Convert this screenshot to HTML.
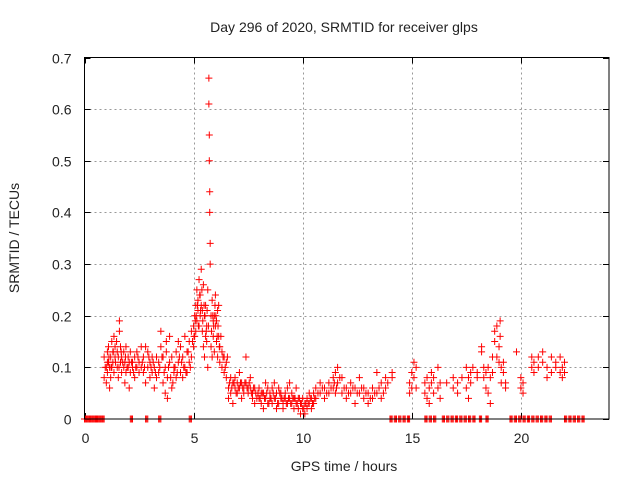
<!DOCTYPE html>
<html><head><meta charset="utf-8"><style>
body{margin:0;background:#fff}
svg text{font-family:"Liberation Sans",sans-serif;font-size:14px;fill:#222}
</style></head><body>
<svg id="chart" width="640" height="480" xmlns="http://www.w3.org/2000/svg">
<rect width="640" height="480" fill="#fff"/>
<text x="344" y="32" text-anchor="middle">Day 296 of 2020, SRMTID for receiver glps</text>
<text x="344" y="471" text-anchor="middle">GPS time / hours</text>
<text transform="translate(19,238) rotate(-90)" text-anchor="middle">SRMTID / TECUs</text>
<g id="grid"></g>
<g id="ticks"></g>
<g id="points"></g>
<rect x="84.5" y="57.5" width="524.5" height="361.5" fill="none" stroke="#000" stroke-width="1"/>
</svg>
<script>
const xTicks=[0,5,10,15,20];
const yTicks=[0,0.1,0.2,0.3,0.4,0.5,0.6,0.7];
const yTickLabels=["0","0.1","0.2","0.3","0.4","0.5","0.6","0.7"];
const times=[0.9,1.0,1.05,1.1,1.15,1.2,1.25,1.3,1.35,1.4,1.5,1.55,1.6,1.65,1.7,1.8,1.85,1.9,2.0,2.05,2.1,2.2,2.3,2.4,2.5,
2.6,2.7,2.8,2.9,3.0,3.1,3.2,3.3,3.4,3.5,3.6,3.7,3.75,3.8,3.9,4.0,4.1,4.2,4.3,4.4,4.5,4.6,4.7,4.8,4.9,
5.0,5.05,5.1,5.15,5.2,5.25,5.3,5.35,5.4,5.45,5.5,5.55,5.6,5.65,5.7,5.72,5.74,5.76,5.8,5.85,5.9,5.95,6.0,6.05,6.1,6.15,6.2,6.3,6.4,6.5,
6.6,6.7,6.8,6.9,7.0,7.1,7.2,7.3,7.4,7.5,7.6,7.7,7.8,
8.0,8.1,8.2,8.3,8.4,8.5,8.6,8.7,8.8,8.9,9.0,9.1,9.2,9.3,9.4,9.5,9.6,9.7,9.8,9.9,10.0,10.1,10.2,10.3,10.4,10.5,
10.6,10.8,11.0,11.2,11.4,11.5,11.6,11.8,12.0,12.2,12.4,12.6,12.8,13.0,13.2,13.4,13.6,13.8,
14.1,14.9,15.0,15.1,15.2,15.6,15.7,15.8,15.9,16.0,16.2,16.3,16.6,16.9,17.1,17.3,17.5,17.6,17.7,17.8,18.0,18.2,18.3,18.4,18.5,18.6,18.7,18.8,18.9,19.0,19.05,19.1,19.2,19.3,19.8,20.0,20.1,20.5,20.6,20.8,21.0,21.2,21.4,21.6,21.8,21.9,22.0];
const valuesA=[.08,.1,.13,.11,.06,.12,.15,.13,.16,.12,.1,.08,.19,.11,.09,.1,.07,.14,.12,.06,.09,.11,.12,.1,.09,
.14,.12,.14,.1,.08,.09,.06,.12,.09,.14,.12,.1,.15,.08,.16,.12,.1,.13,.11,.09,.12,.16,.13,.15,.12,
.14,.2,.22,.25,.23,.27,.24,.29,.21,.26,.2,.22,.15,.25,.66,.55,.44,.34,.2,.23,.19,.2,.24,.15,.21,.16,.14,.13,.12,.11,
.06,.08,.07,.06,.05,.06,.07,.06,.12,.06,.08,.05,.06,
.04,.03,.05,.04,.03,.05,.06,.04,.05,.03,.04,.03,.05,.06,.04,.03,.04,.03,.04,.03,.02,.03,.04,.03,.04,.05,
.04,.05,.06,.07,.08,.09,.07,.08,.06,.05,.06,.05,.04,.05,.06,.09,.07,.08,
.08,.07,.06,.08,.06,.05,.08,.03,.09,.05,.06,.04,.07,.08,.05,.08,.1,.08,.09,.1,.08,.14,.1,.06,.05,.03,.12,.15,.18,.14,.16,.1,.09,.07,.13,.06,.07,.1,.11,.12,.13,.1,.12,.11,.09,.1,.09];
const valuesB=[.12,.07,.09,.14,.1,.08,.1,.11,.09,.14,.13,.12,.17,.14,.12,.13,.11,.09,.1,.11,.13,.1,.08,.13,.11,
.1,.09,.07,.13,.11,.12,.1,.08,.11,.17,.07,.05,.13,.04,.11,.06,.09,.08,.15,.14,.08,.1,.09,.11,.17,
.18,.16,.17,.19,.21,.18,.2,.22,.17,.14,.12,.16,.18,.1,.61,.5,.4,.3,.14,.12,.16,.13,.18,.19,.12,.22,.11,.1,.09,.08,
.04,.05,.03,.08,.07,.09,.04,.05,.07,.05,.06,.04,.03,
.06,.05,.02,.07,.06,.04,.03,.07,.02,.06,.05,.02,.04,.03,.07,.05,.02,.06,.02,.01,.04,.01,.02,.05,.02,.03,
.06,.07,.04,.05,.06,.05,.1,.05,.04,.07,.03,.08,.06,.03,.04,.05,.04,.06,
.09,.05,.09,.11,.1,.07,.04,.06,.07,.08,.1,.07,null,.06,.07,null,.06,.04,.07,null,.09,.13,.08,.09,.1,.08,.09,.17,.12,.11,.19,.07,.11,.06,null,.08,.05,.12,.09,.1,.11,.08,.09,.1,.12,.08,.11];
const extraTimes=[0.95,1.05,1.12,1.22,1.32,1.42,1.47,1.58,1.68,1.75,1.88,1.95,2.15,2.25,2.35,2.45,2.65,2.75,2.95,3.05,3.15,3.25,3.45,3.55,3.65,3.85,3.95,4.05,4.15,4.25,4.35,4.45,4.55,4.65,4.75,4.85,4.95,
5.02,5.08,5.12,5.18,5.22,5.28,5.32,5.38,5.42,5.48,5.52,5.58,5.62,5.68,5.82,5.88,5.92,5.98,6.02,6.08,6.12,6.18,6.25,6.35,6.45,6.55,
6.65,6.75,6.85,6.95,7.05,7.15,7.25,7.35,7.45,7.55,7.65,7.75,7.85,7.9,7.95,8.05,8.15,8.25,8.35,8.45,8.55,8.65,8.75,8.85,8.95,9.05,9.15,9.25,9.35,9.45,9.55,9.65,9.75,9.85,9.95,10.05,10.15,10.25,10.35,10.45,10.55,
10.7,10.9,11.1,11.3,11.45,11.55,11.7,11.9,12.1,12.3,12.5,12.7,12.9,13.1,13.3,13.5,13.7,13.9];
const extraValues=[.1,.11,.12,.1,.13,.11,.15,.1,.13,.11,.12,.1,.11,.09,.1,.12,.11,.1,.12,.1,.11,.09,.1,.12,.09,.1,.08,.07,.1,.09,.12,.11,.1,.09,.13,.1,.15,
.16,.19,.2,.22,.18,.24,.21,.25,.19,.22,.2,.17,.21,.18,.17,.2,.18,.22,.2,.16,.18,.14,.16,.12,.1,.12,
.07,.06,.07,.05,.06,.07,.06,.07,.06,.07,.05,.06,.05,.04,.05,.04,.05,.04,.05,.03,.04,.05,.04,.03,.05,.04,.04,.03,.04,.03,.04,.04,.03,.04,.03,.02,.03,.03,.04,.03,.04,
.05,.06,.05,.06,.07,.06,.08,.06,.05,.06,.05,.06,.05,.04,.05,.06,.05,.07];
const zeroTimes=[0,0.1,0.2,0.3,0.4,0.5,0.6,0.7,0.8,2.1,2.8,3.4,4.8,14.0,14.2,14.4,14.6,14.8,15.6,15.8,16.0,16.4,16.6,16.8,17.0,17.2,17.4,17.6,17.8,18.1,18.4,19.5,19.7,19.9,20.1,20.3,20.5,20.7,20.9,21.1,21.3,22.0,22.2,22.4,22.6,22.8];
const X0=84.5,X1=609,XMAX=24.04,Y0=419,Y1=57.5,YMAX=0.7;
function sx(t){return X0+(X1-X0)*t/XMAX;}
function sy(v){return Y0-(Y0-Y1)*v/YMAX;}
const NS="http://www.w3.org/2000/svg";
const grid=document.getElementById('grid'),ticks=document.getElementById('ticks'),pts=document.getElementById('points');
function line(g,x1,y1,x2,y2,st,dash){const l=document.createElementNS(NS,'line');l.setAttribute('x1',x1);l.setAttribute('y1',y1);l.setAttribute('x2',x2);l.setAttribute('y2',y2);l.setAttribute('stroke',st);if(dash)l.setAttribute('stroke-dasharray',dash);g.appendChild(l);return l;}
function txt(g,x,y,s,a){const t=document.createElementNS(NS,'text');t.setAttribute('x',x);t.setAttribute('y',y);t.setAttribute('text-anchor',a);t.textContent=s;g.appendChild(t);return t;}
xTicks.forEach(t=>{const x=Math.round(sx(t))+0.5;
 if(t>0){const g=line(grid,x,Y1,x,Y0,'#999','2,3');}
 line(ticks,x,Y0,x,Y0-6,'#000');line(ticks,x,Y1,x,Y1+6,'#000');
 const l=txt(ticks,x,Y0+24,String(t),'middle');
 
 });
yTicks.forEach((v,i)=>{const y=Math.round(sy(v))+0.5;
 if(v>0&&v<0.7){const g=line(grid,X0,y,X1,y,'#999','2,3');}
 line(ticks,X0,y,X0+6,y,'#000');line(ticks,X1,y,X1-6,y,'#000');
 const l=txt(ticks,X0-13,y+5,yTickLabels[i],'end');
 
 });
function plus(t,v){const x=sx(t),y=sy(v);const p=document.createElementNS(NS,'path');
 p.setAttribute('d',`M${x-3.5} ${y}H${x+3.5}M${x} ${y-3.5}V${y+3.5}`);
 p.setAttribute('stroke','#f00');p.setAttribute('fill','none');
 
 
 pts.appendChild(p);}
times.forEach((t,i)=>{if(valuesA[i]!=null)plus(t,valuesA[i]);if(valuesB[i]!=null)plus(t,valuesB[i]);});
extraTimes.forEach((t,i)=>{if(extraValues[i]!=null)plus(t,extraValues[i]);});
zeroTimes.forEach(t=>{plus(t,0);plus(t+0.05,0);plus(t+0.1,0);});
</script>
</body></html>
